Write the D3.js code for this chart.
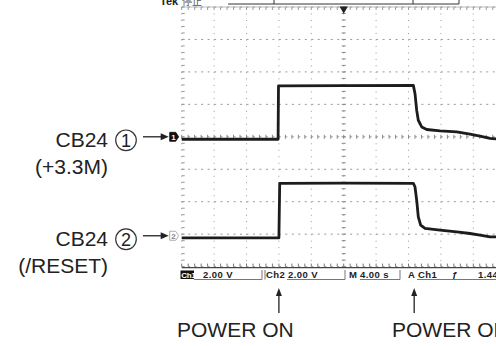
<!DOCTYPE html>
<html>
<head>
<meta charset="utf-8">
<script src="https://cdn.jsdelivr.net/npm/d3@7"></script>
<style>
  body { margin: 0; background: #fff; }
  svg { display: block; }
  .lbl { font-family: "Liberation Sans", Arial, sans-serif; fill: #222; }
  .ro { font-family: "Liberation Sans", Arial, sans-serif; font-weight: bold; font-size: 9.5px; fill: #222; }
</style>
</head>
<body>
<div class="chart"></div>
<script>
// time in seconds from the left edge of the screen, volts per channel
var ch1Time = [0, 11.9, 11.95, 20, 28.6, 28.8, 29.01, 29.21, 29.63, 30.25, 31.89, 33.95, 35.59, 36.83, 38.06, 38.8, 40];
var ch1Volts = [-0.15, -0.15, 3.14, 3.16, 3.17, 2.67, 1.64, 1.02, 0.61, 0.45, 0.36, 0.30, 0.16, 0.04, -0.10, -0.13, -0.14];
var ch2Time = [0, 12.0, 12.1, 20, 28.6, 28.8, 29.01, 29.21, 29.5, 30.04, 31.89, 33.95, 35.59, 36.83, 38.06, 38.8, 40];
var ch2Volts = [-0.13, -0.13, 3.23, 3.24, 3.23, 3.02, 2.20, 1.17, 0.65, 0.45, 0.35, 0.24, 0.14, 0.04, -0.07, -0.07, -0.08];

var channelNames = ["CB24", "CB24"];
var channelNotes = ["(+3.3M)", "(/RESET)"];
var channelPos = [0, -3.05];           // ground marker position, divisions
var voltsPerDiv = 2;
var readout = ["Ch1", "2.00 V", "Ch2", "2.00 V", "M", "4.00 s", "A", "Ch1", "1.44"];
var eventTimes = [12.0, 28.7];
var eventLabel = "POWER ON";

var svgWidth = 496;
var svgHeight = 346;

var svg = d3.select(".chart")
  .append("svg")
  .attr("width", svgWidth)
  .attr("height", svgHeight);

// 10 divisions of 4 s, 8 divisions vertically
var xScale = d3.scaleLinear().domain([0, 40]).range([181.7, 505.7]);
var yScale = d3.scaleLinear().domain([-4, 4]).range([266.6, 7]);
var divW = xScale(4) - xScale(0);
var divH = yScale(0) - yScale(1);

// graticule
var grid = svg.append("g");
d3.range(0, 11).forEach(function(i) {
  var x = xScale(i * 4);
  grid.append("line")
    .attr("x1", x).attr("x2", x).attr("y1", yScale(4)).attr("y2", yScale(-4))
    .attr("stroke", "#999").attr("stroke-width", 1)
    .attr("stroke-dasharray", "1," + (divH / 5 - 1));
});
d3.range(0, 9).forEach(function(j) {
  var y = yScale(j - 4);
  grid.append("line")
    .attr("x1", xScale(0)).attr("x2", xScale(40)).attr("y1", y).attr("y2", y)
    .attr("stroke", "#999").attr("stroke-width", 1)
    .attr("stroke-dasharray", "2," + (divW / 5 - 2));
});

// minor ticks on centre lines and edges
var minorX = d3.range(0, 51).map(function(k) { return k * 0.8; });
var minorY = d3.range(0, 41).map(function(k) { return -4 + k * 0.2; });
minorX.forEach(function(t) {
  var x = xScale(t);
  grid.append("line").attr("x1", x).attr("x2", x)
    .attr("y1", yScale(0) - 2).attr("y2", yScale(0) + 2)
    .attr("stroke", "#888");
  grid.append("line").attr("x1", x).attr("x2", x)
    .attr("y1", yScale(4)).attr("y2", yScale(4) + 3)
    .attr("stroke", "#999");
  grid.append("line").attr("x1", x).attr("x2", x)
    .attr("y1", yScale(-4) - 3).attr("y2", yScale(-4))
    .attr("stroke", "#777");
});
minorY.forEach(function(v) {
  var y = yScale(v);
  grid.append("line").attr("x1", xScale(20) - 2).attr("x2", xScale(20) + 2)
    .attr("y1", y).attr("y2", y)
    .attr("stroke", "#888");
  grid.append("line").attr("x1", xScale(0)).attr("x2", xScale(0) + 3)
    .attr("y1", y).attr("y2", y)
    .attr("stroke", "#999");
});
grid.append("line")
  .attr("x1", xScale(0)).attr("x2", xScale(40))
  .attr("y1", yScale(4)).attr("y2", yScale(4))
  .attr("stroke", "#aaa").attr("stroke-width", 0.8);
grid.append("line")
  .attr("x1", xScale(0)).attr("x2", xScale(40))
  .attr("y1", yScale(-4) + 1).attr("y2", yScale(-4) + 1)
  .attr("stroke", "#444").attr("stroke-width", 1.2);

// trigger position marker
svg.append("path")
  .attr("d", d3.symbol().type(d3.symbolTriangle).size(30))
  .attr("transform", "translate(" + xScale(20) + "," + (yScale(4) + 2) + ") rotate(180)")
  .attr("fill", "#222");

// record bar at the top
svg.append("path")
  .attr("d", "M228,4 H459 V0 M274,4 V0 M413,4 V0")
  .attr("fill", "none").attr("stroke", "#333").attr("stroke-width", 1);
svg.append("text").attr("x", 160).attr("y", 5)
  .attr("font-family", "Liberation Sans, Arial").attr("font-weight", "bold")
  .attr("font-size", 11).attr("fill", "#222").text("Tek");
svg.append("text").attr("x", 182).attr("y", 5)
  .attr("font-family", "Noto Sans CJK JP").attr("font-size", 10).attr("fill", "#555").text("停止");

// traces
var line = d3.line()
  .x(function(d) { return xScale(d[0]); })
  .y(function(d) { return yScale(d[1]); });

var traces = [
  ch1Time.map(function(t, i) { return [t, channelPos[0] + ch1Volts[i] / voltsPerDiv]; }),
  ch2Time.map(function(t, i) { return [t, channelPos[1] + ch2Volts[i] / voltsPerDiv]; })
];
traces.forEach(function(tr) {
  svg.append("path")
    .datum(tr)
    .attr("d", line)
    .attr("fill", "none")
    .attr("stroke", "#1c1c1c")
    .attr("stroke-width", 2.8)
    .attr("stroke-linejoin", "round");
});

// ground markers, arrows and channel labels
channelPos.forEach(function(p, i) {
  var y = yScale(p);
  var mx = xScale(0) - 12;
  svg.append("path")
    .attr("d", "M" + mx + "," + (y - 4.5) + " h6 l3,4.5 l-3,4.5 h-6 z")
    .attr("fill", i === 0 ? "#111" : "#fff")
    .attr("stroke", i === 0 ? "#111" : "#999").attr("stroke-width", 0.8);
  svg.append("text").attr("x", mx + 3.8).attr("y", y + 3)
    .attr("text-anchor", "middle").attr("font-family", "Liberation Sans, Arial")
    .attr("font-size", 8).attr("font-weight", "bold")
    .attr("fill", i === 0 ? "#fff" : "#888").text(i + 1);

  svg.append("line")
    .attr("x1", 143).attr("x2", mx - 6).attr("y1", y).attr("y2", y)
    .attr("stroke", "#222").attr("stroke-width", 1.3);
  svg.append("path")
    .attr("d", "M" + (mx - 1) + "," + y + " l-8,-3.5 v7 z")
    .attr("fill", "#222");

  var cy = y + 3.5;
  svg.append("circle").attr("cx", 126).attr("cy", cy).attr("r", 10.3)
    .attr("fill", "none").attr("stroke", "#333").attr("stroke-width", 1.2);
  svg.append("text").attr("class", "lbl").attr("x", 126).attr("y", cy + 6.5)
    .attr("text-anchor", "middle").attr("font-size", 18).text(i + 1);

  svg.append("text").attr("class", "lbl").attr("x", 108).attr("y", y + 10.5)
    .attr("text-anchor", "end").attr("font-size", 21).text(channelNames[i]);
  svg.append("text").attr("class", "lbl").attr("x", 108).attr("y", y + 37.5)
    .attr("text-anchor", "end").attr("font-size", 21).text(channelNotes[i]);
});

// readout line under the graticule
var ro = svg.append("g");
var roY = 277.5;
ro.append("rect").attr("x", 180.5).attr("y", 270.5).attr("width", 13.5).attr("height", 8.5).attr("fill", "#111");
ro.append("text").attr("x", 181.2).attr("y", roY)
  .attr("font-family", "Liberation Sans, Arial").attr("font-weight", "bold")
  .attr("font-size", 8).attr("letter-spacing", -0.3).attr("fill", "#fff").text(readout[0]);
var roX = [203, 266, 288, 349, 360, 408, 418, 478];
readout.slice(1).forEach(function(s, i) {
  ro.append("text").attr("class", "ro").attr("x", roX[i]).attr("y", roY)
    .attr("letter-spacing", 0.4).text(s);
});
ro.append("text").attr("class", "ro").attr("x", 452).attr("y", roY).text("ƒ");
ro.append("path")
  .attr("d", "M194,279.5 H262 V270 M265,270 V279.5 M287,279.5 H345 V270 M360,279.5 H400 V270 M417,279.5 H496")
  .attr("fill", "none").attr("stroke", "#777").attr("stroke-width", 1);

// power on arrows
eventTimes.forEach(function(t, i) {
  var x = xScale(t);
  svg.append("line").attr("x1", x).attr("x2", x).attr("y1", 294).attr("y2", 313)
    .attr("stroke", "#222").attr("stroke-width", 1.3);
  svg.append("path").attr("d", "M" + x + ",288 l-3,8 h6 z").attr("fill", "#222");
  svg.append("text").attr("class", "lbl")
    .attr("x", i === 0 ? 177 : 392).attr("y", 336.5)
    .attr("font-size", 21).text(eventLabel);
});
</script>
</body>
</html>
